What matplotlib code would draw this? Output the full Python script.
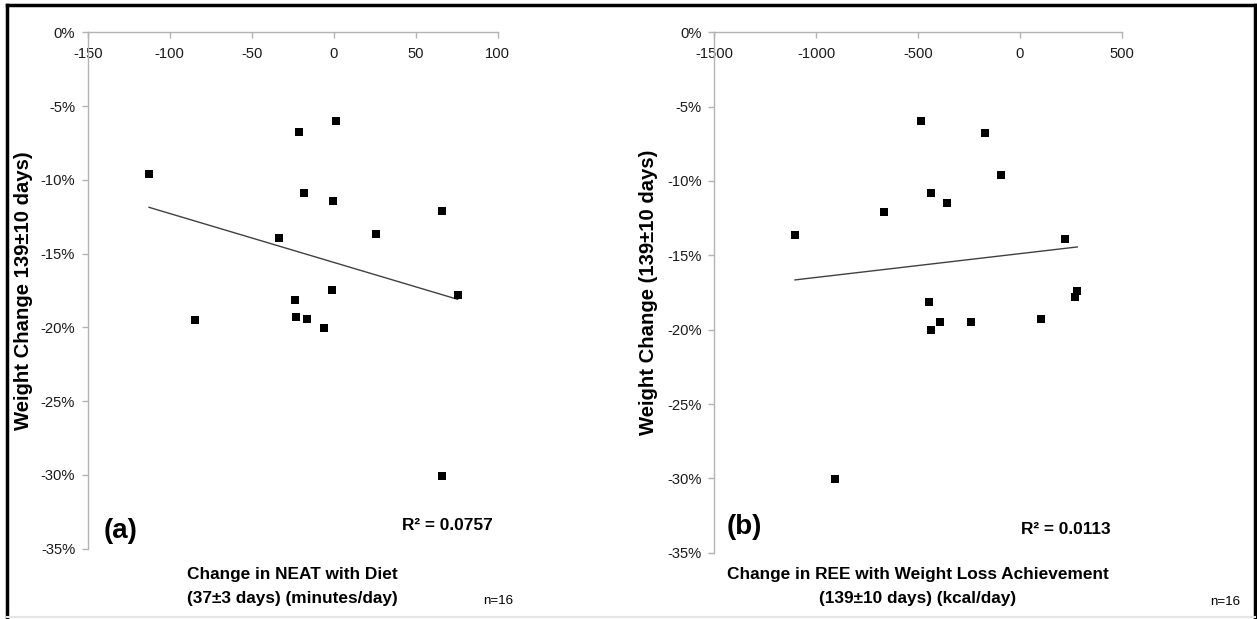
import matplotlib
matplotlib.use("Agg")
import matplotlib.pyplot as plt
from matplotlib.lines import Line2D
from matplotlib.ticker import PercentFormatter
import numpy as np

# ******************
# Data
# ******************
neat_change = [-112.6, -21.3, 1.4, -18.3, -0.2, 66.0, 25.6, -33.5,
               -0.8, 75.6, -23.6, -84.6, -23.2, -16.5, -6.1, 66.2]
neat_weight = [-9.58, -6.73, -6.01, -10.87, -11.43, -12.09, -13.67, -13.92,
               -17.44, -17.78, -18.16, -19.51, -19.27, -19.44, -20.05, -30.04]

ree_change = [-484, -170, -95, -436, -356, -667, -1103, 219,
              281, 268, -448, -436, -391, -242, 103, -908]
ree_weight = [-5.97, -6.76, -9.58, -10.83, -11.47, -12.11, -13.66, -13.93,
              -17.43, -17.79, -18.15, -20.03, -19.49, -19.49, -19.27, -30.01]

neat_xticks = [-150, -100, -50, 0, 50, 100]
ree_xticks = [-1500, -1000, -500, 0, 500]
weight_yticks = [0, -5, -10, -15, -20, -25, -30, -35]

panel_tags = ["(a)", "(b)"]
r2_labels = ["R² = 0.0757", "R² = 0.0113"]
y_labels = ["Weight Change 139±10 days)", "Weight Change (139±10 days)"]
x_labels = [("Change in NEAT with Diet", "(37±3 days) (minutes/day)"),
            ("Change in REE with Weight Loss Achievement", "(139±10 days) (kcal/day)")]
n_label = "n=16"

# ******************
# Figure
# ******************
plt.rcParams["font.family"] = ["Liberation Sans", "DejaVu Sans"]
plt.rcParams["axes.unicode_minus"] = False

W, H = 1257, 619
fig = plt.figure(figsize=(W / 100, H / 100), dpi=100)

# frame round the whole figure
fig.add_artist(Line2D([7 / W, 7 / W], [2 / H, 1 - 5 / H], color="black", lw=2.5))
fig.add_artist(Line2D([7 / W, 1 - 2 / W], [1 - 5 / H, 1 - 5 / H], color="black", lw=2.5))
fig.add_artist(Line2D([1 - 2 / W, 1 - 2 / W], [2 / H, 1 - 5 / H], color="black", lw=2.5))
fig.add_artist(Line2D([7 / W, 1 - 2 / W], [2 / H, 2 / H], color="#e6e6e6", lw=1.5))

# axes boxes in pixels: left, top, right, bottom
boxes = [(87.7, 32.3, 497.7, 548.7), (714, 32.3, 1122, 552.7)]
xs = [neat_change, ree_change]
ys = [neat_weight, ree_weight]
xticks = [neat_xticks, ree_xticks]
ylabel_x = [24, 648]
tag_pos = [(121, 531), (744, 527)]
r2_pos = [(447, 525), (1066, 529)]
n_pos = [(498, 601), (1225, 602)]

for i in range(2):
    l, t, r, b = boxes[i]
    ax = fig.add_axes([l / W, 1 - b / H, (r - l) / W, (b - t) / H])
    ax.scatter(xs[i], ys[i], marker="s", s=40, color="black", zorder=3, linewidths=0)

    # linear trendline over the data range
    k, c = np.polyfit(xs[i], ys[i], 1)
    xx = np.array([min(xs[i]), max(xs[i])])
    ax.plot(xx, k * xx + c, color="#404040", lw=1.0, zorder=2)

    ax.set_xlim(xticks[i][0], xticks[i][-1])
    ax.set_ylim(-35, 0)
    ax.set_xticks(xticks[i])
    ax.set_yticks(weight_yticks)
    ax.yaxis.set_major_formatter(PercentFormatter(decimals=0))

    for s in ["top", "right"]:
        ax.spines[s].set_visible(False)
    ax.spines["bottom"].set_position(("data", 0))
    for s in ["bottom", "left"]:
        ax.spines[s].set_color("#b3b3b3")
        ax.spines[s].set_linewidth(1.0)
    ax.tick_params(axis="both", direction="out", length=4, width=1.0,
                   color="#b3b3b3", labelcolor="#1a1a1a", labelsize=10.6)
    ax.tick_params(axis="x", pad=6.5)
    ax.tick_params(axis="y", pad=5)

    fig.text(ylabel_x[i] / W, 1 - ((t + b) / 2) / H, y_labels[i], rotation=90,
             ha="center", va="center", fontsize=14.6, fontweight="bold")
    for line, yy in zip(x_labels[i], [575, 598]):
        fig.text(((l + r) / 2) / W, 1 - yy / H, line, ha="center", va="center",
                 fontsize=12.4, fontweight="bold")
    fig.text(tag_pos[i][0] / W, 1 - tag_pos[i][1] / H, panel_tags[i], ha="center",
             va="center", fontsize=20, fontweight="bold")
    fig.text(r2_pos[i][0] / W, 1 - r2_pos[i][1] / H, r2_labels[i], ha="center",
             va="center", fontsize=12.4, fontweight="bold")
    fig.text(n_pos[i][0] / W, 1 - n_pos[i][1] / H, n_label, ha="center",
             va="center", fontsize=9.6)

fig.savefig("out.png", dpi=100, facecolor="white")
